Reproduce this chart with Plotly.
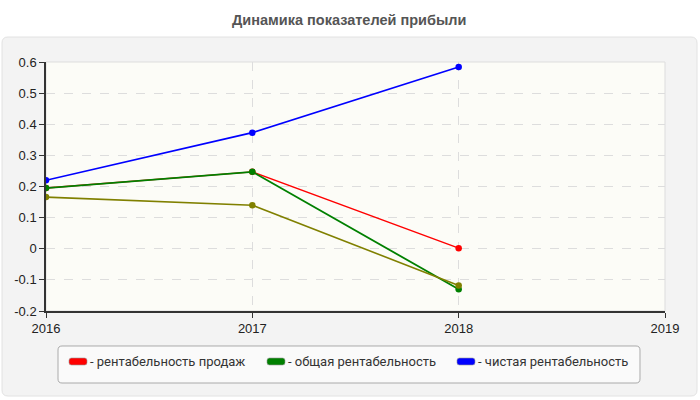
import plotly.graph_objects as go

years = [2016, 2017, 2018]
sales_rent = [0.195, 0.247, 0.002]
total_rent = [0.195, 0.247, -0.130]
net_rent = [0.220, 0.373, 0.584]
other_rent = [0.166, 0.140, -0.118]

names = ["рентабельность продаж", "общая рентабельность", "чистая рентабельность"]
colors = ["#ff0000", "#008000", "#0000ff"]
olive = "#808000"

W, H = 700, 400
L, R, T, B = 46, 35, 62, 89
pw, ph = W - L - R, H - T - B

def px(x):
    return (x - L) / pw

def py(y):
    return (H - B - y) / ph

def rrect(x0, y0, x1, y1, r):
    def P(x, y):
        return f"{px(x):.5f},{py(y):.5f}"
    return (f"M {P(x0 + r, y0)} L {P(x1 - r, y0)} Q {P(x1, y0)} {P(x1, y0 + r)} "
            f"L {P(x1, y1 - r)} Q {P(x1, y1)} {P(x1 - r, y1)} "
            f"L {P(x0 + r, y1)} Q {P(x0, y1)} {P(x0, y1 - r)} "
            f"L {P(x0, y0 + r)} Q {P(x0, y0)} {P(x0 + r, y0)} Z")

fig = go.Figure()
widths = [1.4, 1.8, 1.6]
for vals, nm, c, w in zip([sales_rent, total_rent, net_rent], names, colors, widths):
    fig.add_trace(go.Scatter(x=years, y=vals, mode="lines+markers", name=nm,
                             line=dict(color=c, width=w), marker=dict(size=6.5, color=c),
                             showlegend=False))
fig.add_trace(go.Scatter(x=years, y=other_rent, mode="lines+markers", name="",
                         line=dict(color=olive, width=1.6), marker=dict(size=6.5, color=olive),
                         showlegend=False))

shapes = []
shapes.append(dict(type="path", xref="paper", yref="paper", layer="below",
                   path=rrect(2, 37, 697, 396, 6),
                   fillcolor="#f3f3f3", line=dict(color="#e2e2e2", width=1)))
shapes.append(dict(type="rect", xref="paper", yref="paper", layer="below",
                   x0=0, x1=1, y0=0, y1=1, fillcolor="#fcfcf7",
                   line=dict(color="#dddddd", width=1)))
shapes.append(dict(type="path", xref="paper", yref="paper", layer="above",
                   path=rrect(58, 346, 640, 383, 4),
                   fillcolor="#fafafa", line=dict(color="#aaaaaa", width=1)))

annotations = []
leg_x = [69, 267, 457]
ly = 361.5
for x0, nm, c in zip(leg_x, names, colors):
    shapes.append(dict(type="path", xref="paper", yref="paper", layer="above",
                       path=rrect(x0, ly - 3.5, x0 + 18, ly + 3.5, 2.5),
                       fillcolor=c, line=dict(color="#999999", width=0.6)))
    annotations.append(dict(text="- " + nm, xref="paper", yref="paper",
                            x=px(x0 + 19), y=py(ly), xanchor="left", yanchor="middle",
                            showarrow=False, font=dict(size=13, color="#333333",
                                                       family="Roboto")))

annotations.append(dict(text="<b>Динамика показателей прибыли</b>", xref="paper", yref="paper",
                        x=px(349), y=py(20), xanchor="center", yanchor="middle",
                        showarrow=False, font=dict(size=14.5, color="#555555",
                                                   family="Liberation Sans")))

fig.update_layout(
    width=W, height=H, margin=dict(l=L, r=R, t=T, b=B),
    paper_bgcolor="white", plot_bgcolor="rgba(0,0,0,0)",
    shapes=shapes, annotations=annotations, showlegend=False,
    font=dict(family="Liberation Sans", size=13, color="#222222"),
)
fig.update_xaxes(range=[2016, 2019], tickvals=[2016, 2017, 2018, 2019],
                 ticktext=["2016", "2017", "2018", "2019"],
                 showgrid=True, gridcolor="#dddddd", griddash="dash", gridwidth=1,
                 showline=True, linecolor="#333333", linewidth=1.5,
                 ticks="outside", ticklen=5, tickcolor="#333333", zeroline=False)
fig.update_yaxes(range=[-0.2, 0.6], tickvals=[-0.2, -0.1, 0, 0.1, 0.2, 0.3, 0.4, 0.5, 0.6],
                 ticktext=["-0.2", "-0.1", "0", "0.1", "0.2", "0.3", "0.4", "0.5", "0.6"],
                 showgrid=True, gridcolor="#dddddd", griddash="dash", gridwidth=1,
                 showline=True, linecolor="#333333", linewidth=1.5,
                 ticks="outside", ticklen=5, tickcolor="#333333", zeroline=False)

fig.write_html("out.html")
